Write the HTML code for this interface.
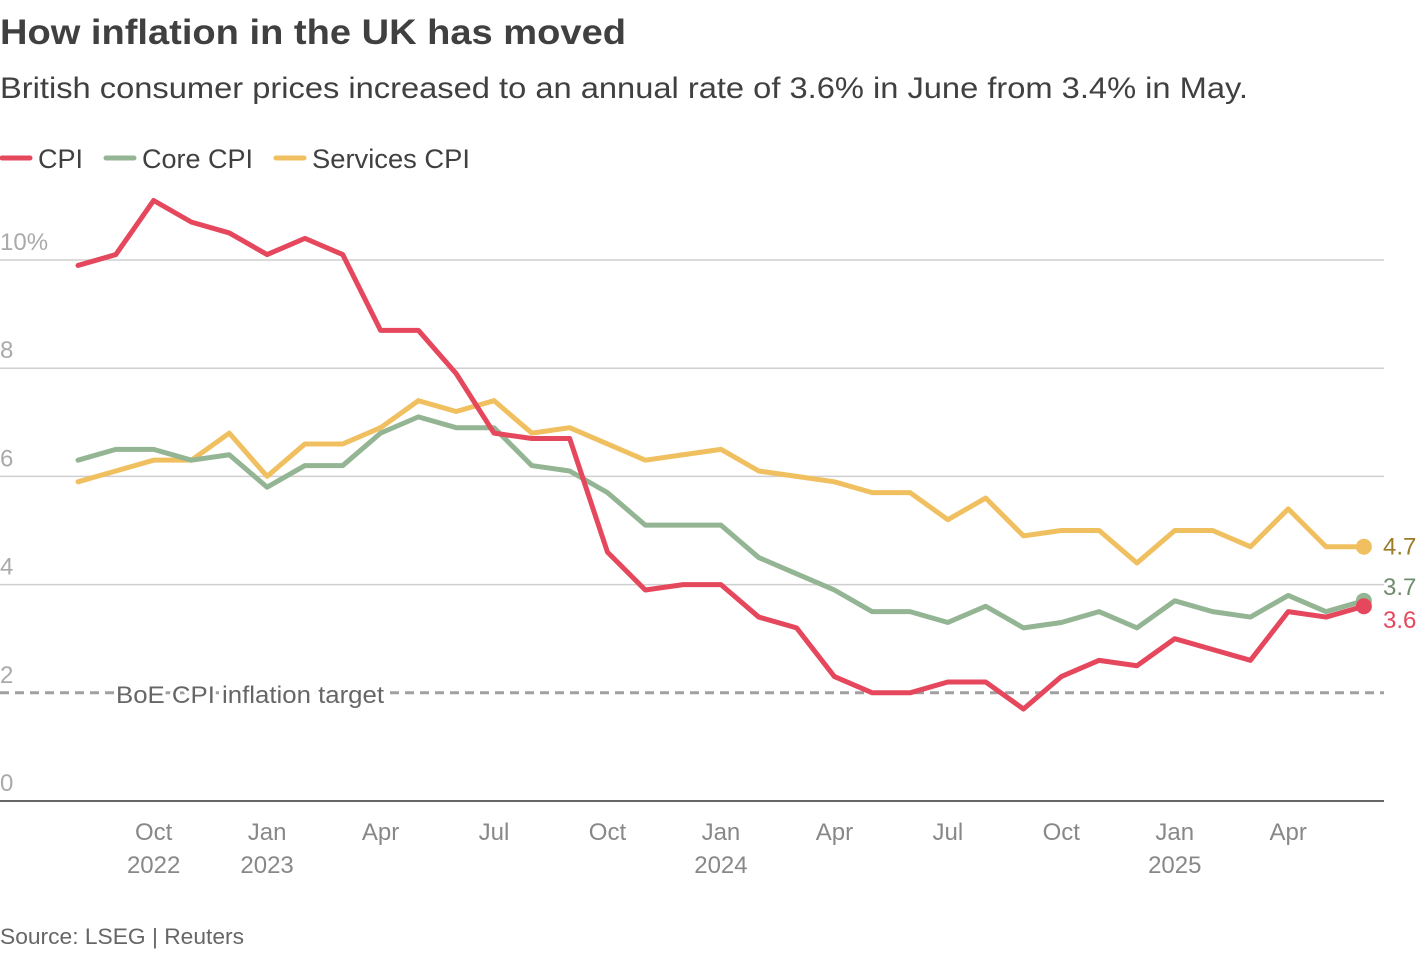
<!DOCTYPE html>
<html><head><meta charset="utf-8"><style>
body{margin:0;background:#fff;font-family:"Liberation Sans",sans-serif;}
svg text{font-family:"Liberation Sans",sans-serif;}
</style></head><body>
<svg id="c" width="1420" height="952">
<text x="0" y="44" font-size="35" font-weight="bold" fill="#404040" textLength="626" lengthAdjust="spacingAndGlyphs">How inflation in the UK has moved</text>
<text x="0" y="98" font-size="30" fill="#404040" textLength="1248" lengthAdjust="spacingAndGlyphs">British consumer prices increased to an annual rate of 3.6% in June from 3.4% in May.</text>
<g>
<line x1="2" y1="158" x2="30" y2="158" stroke="#e5475d" stroke-width="5" stroke-linecap="round"/>
<text x="38" y="168" font-size="27" fill="#404040">CPI</text>
<line x1="106" y1="158" x2="134" y2="158" stroke="#93b593" stroke-width="5" stroke-linecap="round"/>
<text x="142" y="168" font-size="27" fill="#404040" textLength="111" lengthAdjust="spacingAndGlyphs">Core CPI</text>
<line x1="276" y1="158" x2="304" y2="158" stroke="#f0c060" stroke-width="5" stroke-linecap="round"/>
<text x="312" y="168" font-size="27" fill="#404040" textLength="158" lengthAdjust="spacingAndGlyphs">Services CPI</text>
</g>
<g id="grid"></g><g id="lines"></g>
<text x="0" y="944" font-size="22" fill="#666" textLength="244" lengthAdjust="spacingAndGlyphs">Source: LSEG | Reuters</text>
</svg>
<script>
const cpi=[9.9,10.1,11.1,10.7,10.5,10.1,10.4,10.1,8.7,8.7,7.9,6.8,6.7,6.7,4.6,3.9,4.0,4.0,3.4,3.2,2.3,2.0,2.0,2.2,2.2,1.7,2.3,2.6,2.5,3.0,2.8,2.6,3.5,3.4,3.6];
const core=[6.3,6.5,6.5,6.3,6.4,5.8,6.2,6.2,6.8,7.1,6.9,6.9,6.2,6.1,5.7,5.1,5.1,5.1,4.5,4.2,3.9,3.5,3.5,3.3,3.6,3.2,3.3,3.5,3.2,3.7,3.5,3.4,3.8,3.5,3.7];
const services=[5.9,6.1,6.3,6.3,6.8,6.0,6.6,6.6,6.9,7.4,7.2,7.4,6.8,6.9,6.6,6.3,6.4,6.5,6.1,6.0,5.9,5.7,5.7,5.2,5.6,4.9,5.0,5.0,4.4,5.0,5.0,4.7,5.4,4.7,4.7];
const yTicks=[0,2,4,6,8,10];
const xTickIdx=[2,5,8,11,14,17,20,23,26,29,32];
const xTickLab=["Oct","Jan","Apr","Jul","Oct","Jan","Apr","Jul","Oct","Jan","Apr"];
const xTickYear=["2022","2023","","","","2024","","","","2025",""];
const target=2;
const NS="http://www.w3.org/2000/svg";
const x=i=>78+37.82*i, y=v=>801-54.1*v;
function mk(p,t,a){const e=document.createElementNS(NS,t);for(const k in a)e.setAttribute(k,a[k]);p.appendChild(e);return e;}
const g=document.getElementById('grid'),L=document.getElementById('lines');
yTicks.forEach(v=>{
 if(v>0&&v!==target){const l=mk(g,'line',{x1:0,x2:1384,y1:y(v),y2:y(v),stroke:'#cfcfcf','stroke-width':1.5});
 
 }
 const t=mk(g,'text',{x:0,y:y(v)-10,'font-size':24,fill:'#aaa'});t.textContent=v+(v===10?'%':'');
 
 
});
const ax=mk(g,'line',{x1:0,x2:1384,y1:801,y2:801,stroke:'#333','stroke-width':1.5});


const tl=mk(g,'line',{x1:0,x2:1384,y1:y(target),y2:y(target),stroke:'#a0a0a0','stroke-width':3,'stroke-dasharray':'9,6'});


const tt=mk(g,'text',{x:116,y:y(target)+10,'font-size':24,fill:'#666',stroke:'#fff','stroke-width':6,'paint-order':'stroke',textLength:268,lengthAdjust:'spacingAndGlyphs'});tt.textContent='BoE CPI inflation target';


xTickIdx.forEach((i,k)=>{
 const t=mk(g,'text',{x:x(i),y:840,'font-size':24,fill:'#888','text-anchor':'middle'});t.textContent=xTickLab[k];
 
 
 if(xTickYear[k]){const u=mk(g,'text',{x:x(i),y:873,'font-size':24,fill:'#888','text-anchor':'middle'});u.textContent=xTickYear[k];
 
 }
});
function series(d,col,name,lc,dy){
 const p=mk(L,'polyline',{points:d.map((v,i)=>x(i)+','+y(v)).join(' '),fill:'none',stroke:col,'stroke-width':5,'stroke-linejoin':'round','stroke-linecap':'round'});
 
 
 const n=d.length-1;
 const c=mk(L,'circle',{cx:x(n),cy:y(d[n]),r:8,fill:col});
 
 
 const t=mk(L,'text',{x:1383,y:y(d[n])+8+dy,'font-size':24,fill:lc});t.textContent=d[n].toFixed(1);
 
 
}
series(services,'#f0c060','services-cpi','#9c7c28',0);
series(core,'#93b593','core-cpi','#6e8d6e',-14);
series(cpi,'#e5475d','cpi','#e5475d',14);
</script>
</body></html>
